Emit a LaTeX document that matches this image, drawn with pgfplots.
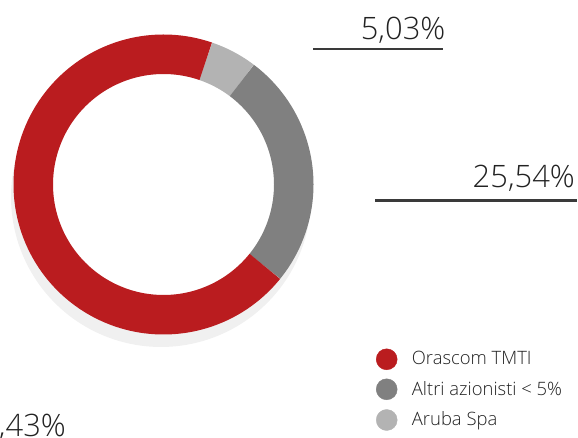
\documentclass[border=0pt]{standalone}
\usepackage{pgfplots}
\pgfplotsset{compat=1.18}
\usepackage{fontspec}
\setmainfont{Open Sans Light}
\definecolor{cred}{HTML}{BA1C1F}
\definecolor{cdark}{HTML}{808080}
\definecolor{clight}{HTML}{B3B3B3}
\definecolor{cshadow}{HTML}{F0F0F0}
\definecolor{ctext}{HTML}{222222}
\definecolor{cline}{HTML}{3A3A3A}
\begin{document}
\begin{tikzpicture}
\useasboundingbox (0,0) rectangle (578bp,438bp);
% shares (percent)
\def\vOrascom{69.43}
\def\vAltri{25.54}
\def\vAruba{5.03}
\pgfmathsetmacro{\aA}{71.1}
\pgfmathsetmacro{\aB}{\aA-\vAruba*3.6}
\pgfmathsetmacro{\aC}{\aB-\vAltri*3.6}
\pgfmathsetmacro{\aD}{\aC-\vOrascom*3.6}
\def\cx{163.5}
\def\cy{253.5}
\def\R{130.25}
\begin{axis}[at={(0,0)}, anchor=south west, width=578bp, height=438bp, scale only axis,
  xmin=0, xmax=578, ymin=0, ymax=438, hide axis, clip=false]
% shadow
\addplot[fill=cshadow, draw=none, domain=0:360, samples=181, variable=\t] ({161+150*cos(\t)},{241+150*sin(\t)});
% inner hole
\addplot[fill=white, draw=none, domain=0:360, samples=181, variable=\t] ({\cx+110.5*cos(\t)},{\cy+110.5*sin(\t)});
% ring segments
\addplot[draw=clight, line width=39.5bp, domain=\aB:\aA, samples=30, variable=\t] ({\cx+\R*cos(\t)},{\cy+\R*sin(\t)});
\addplot[draw=cdark, line width=39.5bp, domain=\aC:\aB, samples=100, variable=\t] ({\cx+\R*cos(\t)},{\cy+\R*sin(\t)});
\addplot[draw=cred, line width=39.5bp, domain=\aD:\aC, samples=250, variable=\t] ({\cx+\R*cos(\t)},{\cy+\R*sin(\t)});
% label lines
\addplot[draw=cline, line width=2.5bp] coordinates {(313,388.8) (443,388.8)};
\addplot[draw=cline, line width=2.5bp] coordinates {(375,237.3) (577,237.3)};
% labels
\node[anchor=base east, text=ctext, font=\fontsize{31}{31}\selectfont, inner sep=0pt] at (axis cs:445.5,398.7) {5,03\%};
\node[anchor=base east, text=ctext, font=\fontsize{31}{31}\selectfont, inner sep=0pt] at (axis cs:575,250) {25,54\%};
\node[anchor=base east, text=ctext, font=\fontsize{31}{31}\selectfont, inner sep=0pt] at (axis cs:66,1.5) {69,43\%};
% legend
\addplot[only marks, mark=*, mark size=10.5bp, color=cred] coordinates {(386.7,78.7)};
\addplot[only marks, mark=*, mark size=10.5bp, color=cdark] coordinates {(386.7,48.7)};
\addplot[only marks, mark=*, mark size=10.5bp, color=clight] coordinates {(386.7,18)};
\node[anchor=base west, text=ctext, font=\fontsize{18.5}{18.5}\selectfont, inner sep=0pt] at (axis cs:411.7,73.2) {Orascom TMTI};
\node[anchor=base west, text=ctext, font=\fontsize{18.5}{18.5}\selectfont, inner sep=0pt] at (axis cs:411.7,42.8) {Altri azionisti < 5\%};
\node[anchor=base west, text=ctext, font=\fontsize{18.5}{18.5}\selectfont, inner sep=0pt] at (axis cs:411.7,12.2) {Aruba Spa};
\end{axis}
\end{tikzpicture}
\end{document}
